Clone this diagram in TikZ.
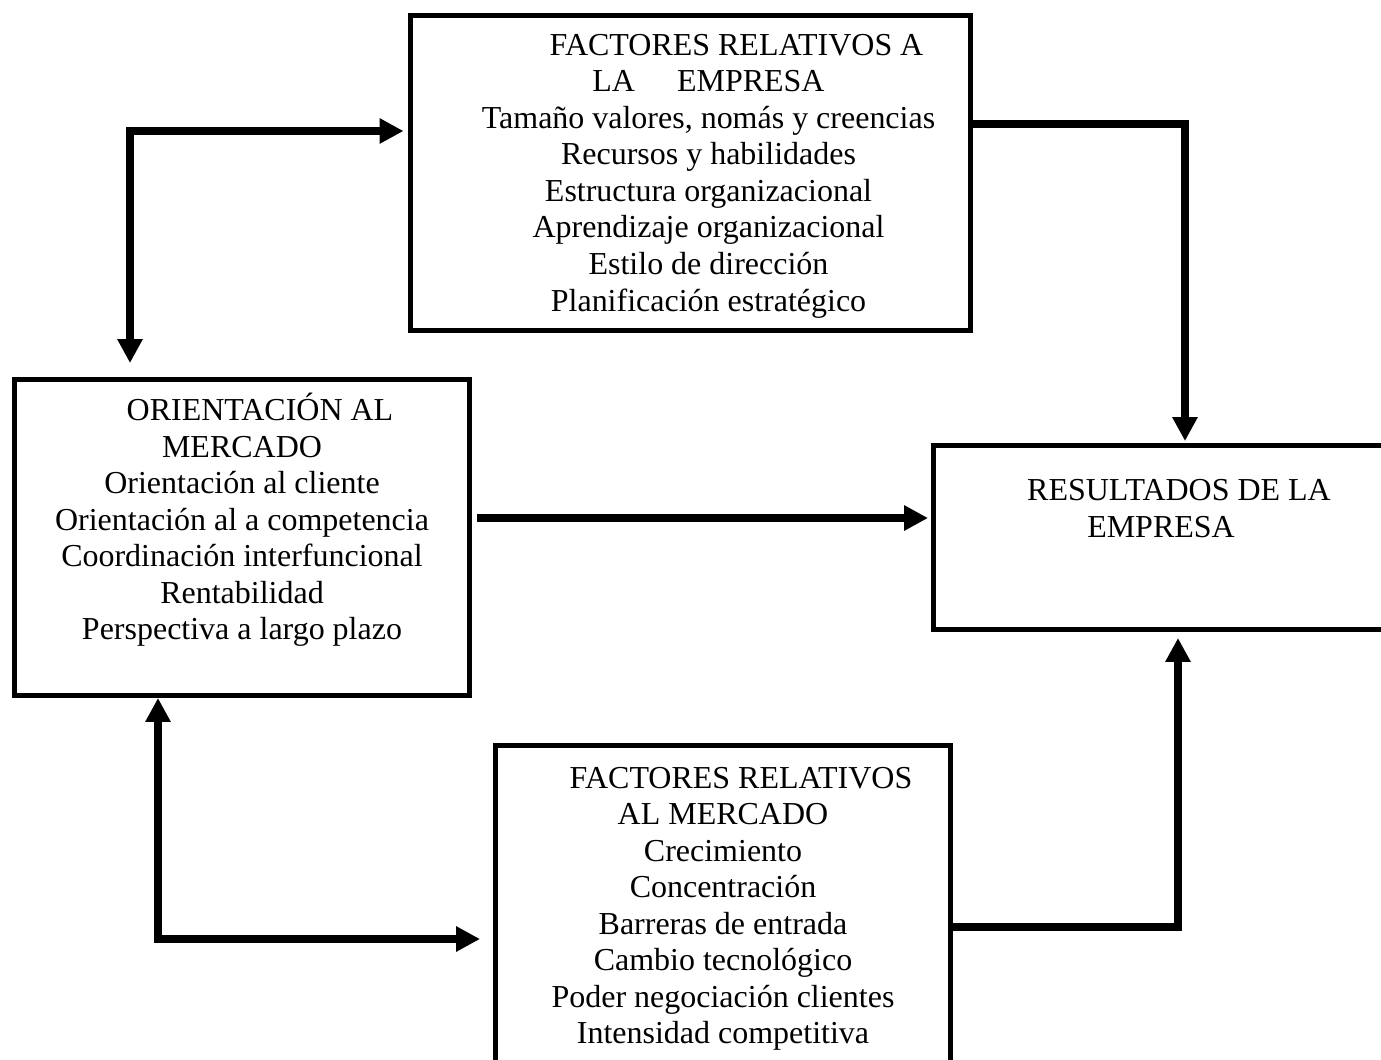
\documentclass[tikz,border=0pt]{standalone}
\usepackage{fontspec}
\setmainfont{Liberation Serif}
\usepackage{tikz}
\usetikzlibrary{arrows.meta}
\usetikzlibrary{positioning}

\begin{document}
\begin{tikzpicture}[
    font = \fontsize{18.2pt}{20.8pt}\selectfont]
    \tikzstyle{box}=[draw,rectangle,line width=3.1pt,inner sep=0pt]
    \tikzstyle{txt}=[align=center,inner sep=0pt]
    \tikzstyle{arr}=[line width=4.5pt,>={Triangle[length=4.8mm,width=4.8mm]}]
    \useasboundingbox (0,0) rectangle (27.62,-21.18);
    \clip (0,0) rectangle (27.62,-21.18);
    % boxes
    \node[box,minimum width=11.21cm,minimum height=6.29cm] (emp) at (13.81,-3.46) {};
    \node[box,minimum width=9.09cm,minimum height=6.31cm] (ori) at (4.84,-10.75) {};
    \node[box,minimum width=9.09cm,minimum height=3.67cm] (res) at (23.22,-10.75) {};
    \node[box,minimum width=9.09cm,minimum height=6.6cm] (mkt) at (14.46,-18.215) {};
    % texts
    \node[txt] (emptext) at ([xshift=3.6mm,yshift=-0.6mm]emp.center) {\hspace*{1.12cm}FACTORES RELATIVOS A\\
      LA\hspace{0.84cm}EMPRESA\\ Tamaño valores, nomás y creencias\\ Recursos y habilidades\\
      Estructura organizacional\\ Aprendizaje organizacional\\ Estilo de dirección\\
      Planificación estratégico};
    \node[txt] (oritext) at ([yshift=3.5mm]ori.center) {\hspace*{0.72cm}ORIENTACIÓN AL\\
      MERCADO\\ Orientación al cliente\\ Orientación al a competencia\\
      Coordinación interfuncional\\ Rentabilidad\\ Perspectiva a largo plazo};
    \node[txt] (restext) at ([yshift=5.8mm]res.center) {\hspace*{0.72cm}RESULTADOS DE LA\\
      EMPRESA};
    \node[txt] (mkttext) at ([yshift=0.4mm]mkt.center) {\hspace*{0.72cm}FACTORES RELATIVOS\\
      AL MERCADO\\ Crecimiento\\ Concentración\\ Barreras de entrada\\
      Cambio tecnológico\\ Poder negociación clientes\\ Intensidad competitiva};
    % corners
    \coordinate (c1) at (2.60,-2.62);
    \coordinate (c2) at (23.70,-2.48);
    \coordinate (c3) at (14.00,-10.36);
    \coordinate (c4) at (3.16,-18.78);
    \coordinate (c5) at (23.56,-18.54);
    \draw[arr,<->,shorten <=2.8mm,shorten >=0.8mm] (ori.north -| c1) |- (emp.west |- c1);
    \draw[arr,->,shorten >=0.4mm] (emp.east |- c2) -| (res.north -| c2);
    \draw[arr,->,shorten <=1mm,shorten >=0.6mm] (ori.east |- c3) -- (res.west |- c3);
    \draw[arr,<->,shorten >=2.6mm] (ori.south -| c4) |- (mkt.west |- c4);
    \draw[arr,->,shorten >=1.2mm] (mkt.east |- c5) -| (res.south -| c5);
\end{tikzpicture}
\end{document}
